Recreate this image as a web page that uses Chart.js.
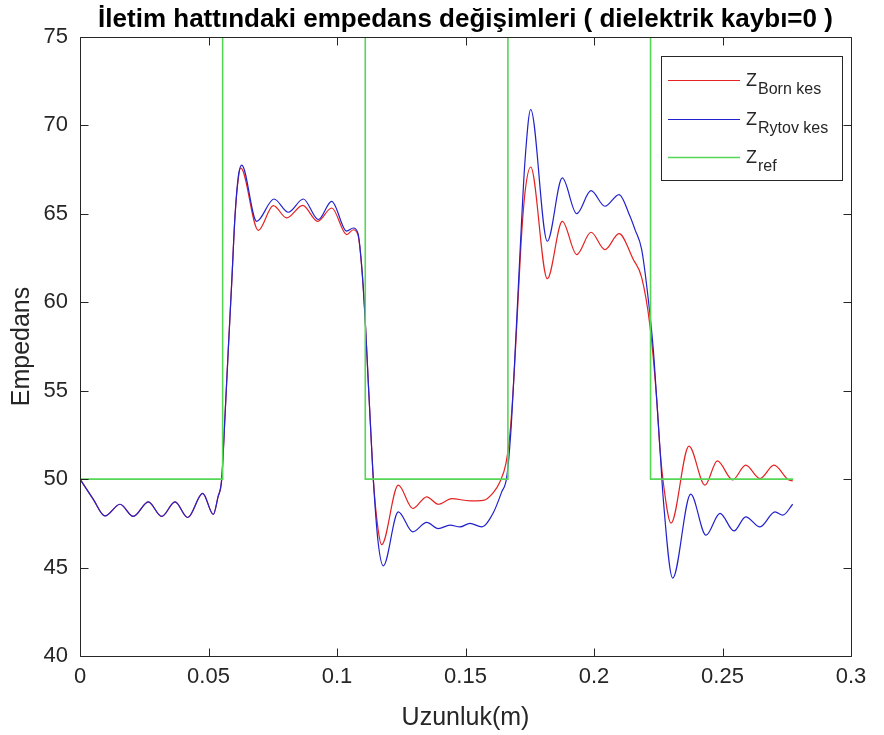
<!DOCTYPE html>
<html>
<head>
<meta charset="utf-8">
<script src="https://cdn.jsdelivr.net/npm/chart.js@4/dist/chart.umd.min.js"></script>
<style>
  html, body { margin: 0; padding: 0; background: #ffffff; }
  #wrap { width: 884px; height: 735px; }
</style>
</head>
<body>
<div id="wrap"><canvas id="c" width="884" height="735"></canvas></div>
<script>
// ---- Data ----
const titleText = 'İletim hattındaki empedans değişimleri ( dielektrik kaybı=0 )';
const xAxisLabel = 'Uzunluk(m)';
const yAxisLabel = 'Empedans';

const xTicks = [0, 0.05, 0.1, 0.15, 0.2, 0.25, 0.3];
const xTickLabels = ['0', '0.05', '0.1', '0.15', '0.2', '0.25', '0.3'];
const yTicks = [40, 45, 50, 55, 60, 65, 70, 75];
const yTickLabels = ['40', '45', '50', '55', '60', '65', '70', '75'];

const legendMain = ['Z', 'Z', 'Z'];
const legendSub = ['Born kes', 'Rytov kes', 'ref'];

// Z_Born kes (red)
const xBorn = [0, 0.00518, 0.00973, 0.01556, 0.02074, 0.02658, 0.03179, 0.03696, 0.04191, 0.04774,
  0.05187, 0.0537, 0.05514, 0.05642, 0.0577, 0.05903, 0.06031, 0.0616, 0.06253, 0.06938,
  0.07521, 0.08043, 0.08665, 0.09249, 0.09794, 0.10377, 0.10634, 0.10817, 0.10961, 0.11089,
  0.11218, 0.1135, 0.11412, 0.11595, 0.11739, 0.12385, 0.12946, 0.1349, 0.13942, 0.14463,
  0.15175, 0.15693, 0.16082, 0.16342, 0.16576, 0.16732, 0.16887, 0.17023, 0.1716, 0.17315,
  0.17537, 0.18183, 0.18767, 0.19327, 0.19883, 0.20428, 0.20973, 0.21529, 0.21856, 0.22179,
  0.2244, 0.22568, 0.22724, 0.22996, 0.23696, 0.24319, 0.24798, 0.25397, 0.25903, 0.26459,
  0.27004, 0.27562, 0.27732];
const zBorn = [50.0, 48.86, 47.92, 48.58, 47.89, 48.71, 47.89, 48.71, 47.83, 49.2,
  48.0, 49.0, 50.0, 53.57, 57.33, 61.1, 64.86, 67.0, 67.6, 64.07,
  65.47, 64.77, 65.48, 64.58, 65.33, 63.83, 64.1, 63.8, 62.0, 59.22,
  55.45, 51.69, 50.0, 47.2, 46.3, 49.66, 48.34, 49.0, 48.58, 48.9,
  48.77, 48.8, 49.24, 49.85, 50.9, 52.6, 55.8, 59.5, 63.3, 66.2,
  67.65, 61.33, 64.58, 62.7, 63.96, 62.98, 63.88, 62.42, 61.4, 58.65,
  54.51, 51.69, 49.5, 47.51, 51.87, 49.66, 51.03, 49.96, 50.79, 50.03,
  50.79, 49.96, 49.9];

// Z_Rytov kes (blue)
const xRytov = [0, 0.00518, 0.00973, 0.01556, 0.02074, 0.02658, 0.03179, 0.03696, 0.04191, 0.04774,
  0.05187, 0.0537, 0.05514, 0.05642, 0.0577, 0.05903, 0.06031, 0.0616, 0.06292, 0.06875,
  0.07549, 0.08105, 0.08689, 0.09272, 0.09794, 0.10377, 0.10634, 0.10817, 0.10961, 0.11089,
  0.11218, 0.1135, 0.11412, 0.11595, 0.11802, 0.12385, 0.12946, 0.1349, 0.13942, 0.14397,
  0.14786, 0.15175, 0.1563, 0.16082, 0.16409, 0.16603, 0.1677, 0.16907, 0.17043, 0.17179,
  0.17315, 0.17537, 0.18183, 0.18767, 0.19327, 0.19883, 0.20428, 0.20973, 0.21401, 0.21595,
  0.21856, 0.22113, 0.22307, 0.2244, 0.22568, 0.22696, 0.23062, 0.23763, 0.24358, 0.24903,
  0.25447, 0.25903, 0.26459, 0.27043, 0.27342, 0.27732];
const zRytov = [50.0, 48.86, 47.92, 48.58, 47.89, 48.71, 47.89, 48.71, 47.83, 49.2,
  48.0, 49.0, 50.0, 53.57, 57.33, 61.1, 64.86, 67.12, 67.76, 64.58,
  65.84, 65.09, 65.84, 64.68, 65.71, 64.02, 64.2, 63.9, 62.04, 59.22,
  55.45, 51.69, 50.0, 46.5, 45.1, 48.15, 47.02, 47.55, 47.2, 47.4,
  47.3, 47.5, 47.3, 48.1, 49.28, 50.1, 52.8, 56.5, 60.5, 64.5,
  68.0, 70.9, 63.45, 67.03, 65.01, 66.31, 65.43, 66.09, 64.86, 64.11,
  62.98, 60.16, 57.34, 54.51, 51.69, 48.87, 44.4, 49.15, 46.83, 48.07,
  47.07, 47.87, 47.3, 48.15, 47.96, 48.58];

// Z_ref (green step)
const xRef = [0, 0.0555, 0.0555, 0.111, 0.111, 0.1665, 0.1665, 0.222, 0.222, 0.2775];
const zRef = [50, 50, 75, 75, 50, 50, 75, 75, 50, 50];

// ---- Build chart ----
const FONT = "'Liberation Sans', Arial, Helvetica, sans-serif";
const TXT = '#262626';
const toPts = (xs, ys) => xs.map((x, i) => ({ x: x, y: ys[i] }));

const boxPlugin = {
  id: 'matlabBox',
  afterDraw(chart) {
    const ctx = chart.ctx;
    const a = chart.chartArea;
    const xs = chart.scales.x, ys = chart.scales.y;
    const L = Math.round(a.left) + 0.5, R = Math.round(a.right) + 0.5;
    const T = Math.round(a.top) + 0.5, B = Math.round(a.bottom) + 0.5;
    ctx.save();
    ctx.strokeStyle = TXT;
    ctx.lineWidth = 1;
    ctx.beginPath();
    ctx.rect(L, T, R - L, B - T);
    const tl = 8;
    xTicks.forEach(v => {
      const p = Math.round(xs.getPixelForValue(v)) + 0.5;
      ctx.moveTo(p, B); ctx.lineTo(p, B - tl);
      ctx.moveTo(p, T); ctx.lineTo(p, T + tl);
    });
    yTicks.forEach(v => {
      const p = Math.round(ys.getPixelForValue(v)) + 0.5;
      ctx.moveTo(L, p); ctx.lineTo(L + tl, p);
      ctx.moveTo(R, p); ctx.lineTo(R - tl, p);
    });
    ctx.stroke();

    // Title
    ctx.fillStyle = '#000000';
    ctx.font = 'bold 26px ' + FONT;
    ctx.textAlign = 'center';
    ctx.textBaseline = 'alphabetic';
    ctx.fillText(titleText, (a.left + a.right) / 2, 27);

    // Legend
    const bx = 661.5, by = 56.5, bw = 181, bh = 124;
    ctx.fillStyle = '#ffffff';
    ctx.fillRect(bx, by, bw, bh);
    ctx.strokeStyle = TXT;
    ctx.lineWidth = 1;
    ctx.strokeRect(bx, by, bw, bh);
    const rowsY = [80, 119, 157];
    chart.data.datasets.forEach((ds, i) => {
      const y = rowsY[i];
      ctx.strokeStyle = ds.borderColor;
      ctx.lineWidth = ds.borderWidth;
      ctx.beginPath();
      ctx.moveTo(668, y + 0.5);
      ctx.lineTo(740, y + 0.5);
      ctx.stroke();
      ctx.fillStyle = TXT;
      ctx.textAlign = 'left';
      ctx.textBaseline = 'alphabetic';
      ctx.font = '18px ' + FONT;
      ctx.fillText(legendMain[i], 746, y + 5.5);
      const zw = ctx.measureText(legendMain[i]).width;
      ctx.font = '16px ' + FONT;
      ctx.fillText(legendSub[i], 746 + zw + 1, y + 13.5);
    });
    ctx.restore();
  }
};

new Chart(document.getElementById('c'), {
  type: 'line',
  data: {
    datasets: [
      { label: 'Z_Born kes', data: toPts(xBorn, zBorn), borderColor: '#e52222', borderWidth: 1.2,
        pointRadius: 0, fill: false, cubicInterpolationMode: 'monotone', order: 2 },
      { label: 'Z_Rytov kes', data: toPts(xRytov, zRytov), borderColor: '#2222cc', borderWidth: 1.2,
        pointRadius: 0, fill: false, cubicInterpolationMode: 'monotone', order: 1 },
      { label: 'Z_ref', data: toPts(xRef, zRef), borderColor: '#55d655', borderWidth: 1.6,
        pointRadius: 0, fill: false, tension: 0, order: 0 }
    ]
  },
  options: {
    responsive: false,
    animation: false,
    devicePixelRatio: 1,
    layout: { padding: { top: 37, right: 33, left: 0, bottom: 0 } },
    plugins: { legend: { display: false }, tooltip: { enabled: false }, title: { display: false } },
    scales: {
      x: {
        type: 'linear', min: 0, max: 0.3,
        afterFit: s => { s.height = 79; },
        afterBuildTicks: s => { s.ticks = xTicks.map(v => ({ value: v })); },
        grid: { display: false, drawTicks: false },
        border: { display: false },
        ticks: { color: TXT, font: { family: FONT, size: 22 }, padding: 8, maxRotation: 0,
                 callback: (v, i) => xTickLabels[i] },
        title: { display: true, text: xAxisLabel, color: TXT, font: { family: FONT, size: 25 },
                 padding: { top: 0, bottom: 2 } }
      },
      y: {
        type: 'linear', min: 40, max: 75,
        afterFit: s => { s.width = 80; },
        afterBuildTicks: s => { s.ticks = yTicks.map(v => ({ value: v })); },
        grid: { display: false, drawTicks: false },
        border: { display: false },
        ticks: { color: TXT, font: { family: FONT, size: 22 }, padding: 12,
                 callback: (v, i) => yTickLabels[i] },
        title: { display: true, text: yAxisLabel, color: TXT, font: { family: FONT, size: 25 },
                 padding: { top: 7, bottom: 0 } }
      }
    }
  },
  plugins: [boxPlugin]
});
</script>
</body>
</html>
